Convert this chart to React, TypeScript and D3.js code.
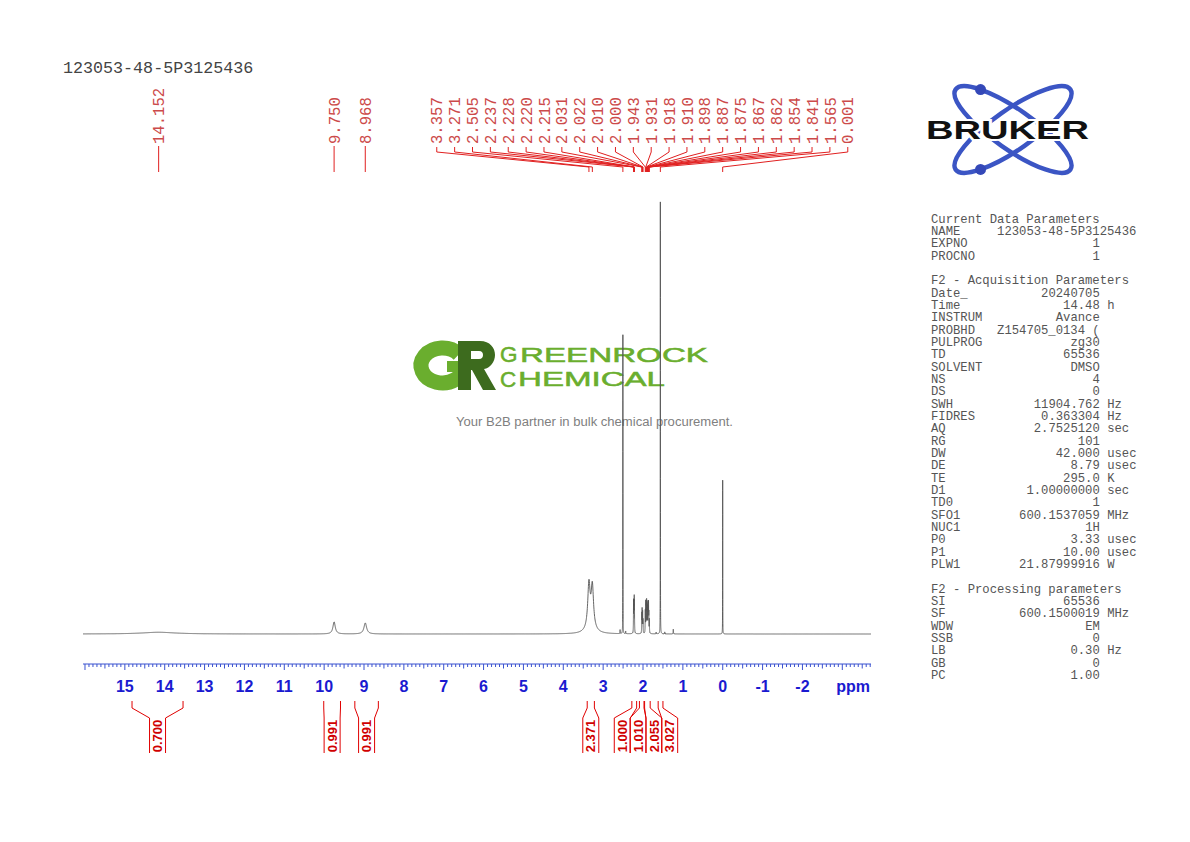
import React from 'react';
import * as d3 from 'd3';

const W = 1190;
const H = 842;

const specTitle = '123053-48-5P3125436';

// Spectrum peaks: position (ppm), height (tallest = 100), half width (ppm)
const peakPpm = [
  14.152, 9.75, 8.968, 3.357, 3.271, 3.31, 2.575, 2.505, 2.435,
  2.237, 2.228, 2.22, 2.215, 2.031, 2.022, 2.01, 2.0,
  1.943, 1.931, 1.918, 1.91, 1.898, 1.887, 1.875, 1.867, 1.862, 1.854, 1.841,
  1.67, 1.565, 1.455, 1.24, 0.001,
];
const peakHeight = [
  0.4, 2.8, 2.55, 10.0, 9.4, 1.5, 0.9, 69.2, 0.6,
  7.2, 6.2, 6.6, 5.5, 4.4, 5.3, 4.8, 3.0,
  5.0, 7.0, 6.3, 6.7, 6.0, 5.6, 6.2, 5.0, 5.3, 4.2, 3.1,
  0.4, 100, 0.45, 1.1, 35.6,
];
const peakWidth = [
  0.5, 0.035, 0.04, 0.035, 0.035, 0.12, 0.003, 0.0015, 0.003,
  0.003, 0.003, 0.003, 0.003, 0.003, 0.003, 0.003, 0.003,
  0.003, 0.003, 0.003, 0.003, 0.003, 0.003, 0.003, 0.003, 0.003, 0.003, 0.003,
  0.003, 0.0015, 0.003, 0.004, 0.0015,
];

// Peak picking labels
const peakLabels = [
  '14.152', '9.750', '8.968', '3.357', '3.271', '2.505', '2.237', '2.228', '2.220', '2.215',
  '2.031', '2.022', '2.010', '2.000', '1.943', '1.931', '1.918', '1.910', '1.898', '1.887',
  '1.875', '1.867', '1.862', '1.854', '1.841', '1.565', '0.001',
];

// Integrals
const integralFrom = [14.82, 10.01, 9.23, 3.4, 2.28, 2.09, 1.96, 1.62];
const integralTo = [13.54, 9.59, 8.64, 3.22, 2.16, 1.975, 1.82, 1.5];
const integralValue = ['0.700', '0.991', '0.991', '2.371', '1.000', '1.010', '2.055', '3.027'];

// Axis
const axisLabels = [15, 14, 13, 12, 11, 10, 9, 8, 7, 6, 5, 4, 3, 2, 1, 0, -1, -2];

// Parameter listing
const paramCurrent: [string, string, string][] = [
  ['NAME', '123053-48-5P3125436', ''],
  ['EXPNO', '1', ''],
  ['PROCNO', '1', ''],
];
const paramAcq: [string, string, string][] = [
  ['Date_', '20240705', ''],
  ['Time', '14.48', 'h'],
  ['INSTRUM', 'Avance', ''],
  ['PROBHD', 'Z154705_0134 (', ''],
  ['PULPROG', 'zg30', ''],
  ['TD', '65536', ''],
  ['SOLVENT', 'DMSO', ''],
  ['NS', '4', ''],
  ['DS', '0', ''],
  ['SWH', '11904.762', 'Hz'],
  ['FIDRES', '0.363304', 'Hz'],
  ['AQ', '2.7525120', 'sec'],
  ['RG', '101', ''],
  ['DW', '42.000', 'usec'],
  ['DE', '8.79', 'usec'],
  ['TE', '295.0', 'K'],
  ['D1', '1.00000000', 'sec'],
  ['TD0', '1', ''],
  ['SFO1', '600.1537059', 'MHz'],
  ['NUC1', '1H', ''],
  ['P0', '3.33', 'usec'],
  ['P1', '10.00', 'usec'],
  ['PLW1', '21.87999916', 'W'],
];
const paramProc: [string, string, string][] = [
  ['SI', '65536', ''],
  ['SF', '600.1500019', 'MHz'],
  ['WDW', 'EM', ''],
  ['SSB', '0', ''],
  ['LB', '0.30', 'Hz'],
  ['GB', '0', ''],
  ['PC', '1.00', ''],
];

function spread(pos: number[], gap: number): number[] {
  const order = pos.map((_, i) => i).sort((a, b) => pos[a] - pos[b]);
  const cl: { idx: number[]; c: number }[] = order.map((i) => ({ idx: [i], c: pos[i] }));
  let merged = true;
  while (merged) {
    merged = false;
    for (let k = 0; k < cl.length - 1; k++) {
      const a = cl[k];
      const b = cl[k + 1];
      const aR = a.c + ((a.idx.length - 1) * gap) / 2;
      const bL = b.c - ((b.idx.length - 1) * gap) / 2;
      if (bL - aR < gap - 1e-9) {
        const idx = [...a.idx, ...b.idx];
        const c = d3.mean(idx, (i) => pos[i]) as number;
        cl.splice(k, 2, { idx, c });
        merged = true;
        break;
      }
    }
  }
  const out: number[] = new Array(pos.length);
  cl.forEach((g) => {
    const n = g.idx.length;
    g.idx.forEach((i, j) => {
      out[i] = g.c + (j - (n - 1) / 2) * gap;
    });
  });
  return out;
}

const MONO = "'Liberation Mono', 'DejaVu Sans Mono', monospace";
const SANS = "'Liberation Sans', Arial, sans-serif";

export default function App() {
  const x = d3.scaleLinear().domain([16.05, -3.72]).range([83, 871]);
  const y = d3.scaleLinear().domain([0, 100]).range([634, 202]);

  // spectrum
  const intensity = (p: number) => {
    let s = 0;
    for (let i = 0; i < peakPpm.length; i++) {
      const d = (p - peakPpm[i]) / peakWidth[i];
      s += peakHeight[i] / (1 + d * d);
    }
    return s;
  };
  const samples: number[] = d3.range(16.05, -3.72, -0.004);
  peakPpm.forEach((p, i) => {
    if (peakWidth[i] < 0.01) {
      for (let d = -0.03; d <= 0.03; d += 0.0004) samples.push(p + d);
      samples.push(p);
    }
  });
  samples.push(-3.72);
  samples.sort((a, b) => b - a);
  const line = d3
    .line<number>()
    .x((p) => x(p))
    .y((p) => y(intensity(p)));
  const specPath = line(samples) || '';

  // axis ticks
  const tickVals = d3.range(-37, 161).map((i) => i / 10);

  // peak labels
  const labelPeakX = peakLabels.map((l) => x(parseFloat(l)));
  const labelX = spread(labelPeakX, 17.87);

  // integrals
  const intX1 = integralFrom.map((v) => x(v));
  const intX2 = integralTo.map((v) => x(v));
  const intMid = intX1.map((v, i) => (v + intX2[i]) / 2);
  const intLabelX = spread(intMid, 15.8);

  // parameters
  const charW = 7.34;
  const px0 = 931;
  const lineH = 12.34;
  const py0 = 222.5;
  type Row = { kind: 'head' | 'row'; text?: string; p?: [string, string, string] };
  const rows: Row[] = [
    { kind: 'head', text: 'Current Data Parameters' },
    ...paramCurrent.map((p) => ({ kind: 'row' as const, p })),
    { kind: 'head', text: '' },
    { kind: 'head', text: 'F2 - Acquisition Parameters' },
    ...paramAcq.map((p) => ({ kind: 'row' as const, p })),
    { kind: 'head', text: '' },
    { kind: 'head', text: 'F2 - Processing parameters' },
    ...paramProc.map((p) => ({ kind: 'row' as const, p })),
  ];

  // Bruker logo geometry
  const bcx = 1013;
  const bcy = 129.5;
  const ba = 70;
  const bb = 20;
  const bth = (35 * Math.PI) / 180;
  const t = (225 * Math.PI) / 180;
  const dotX = bcx + ba * Math.cos(t) * Math.cos(bth) - bb * Math.sin(t) * Math.sin(bth);
  const dotY = bcy + ba * Math.cos(t) * Math.sin(bth) + bb * Math.sin(t) * Math.cos(bth);

  // Greenrock G and R marks
  const gcx = 442.5;
  const gcy = 365.5;
  const grx = 21.5;
  const gry = 17.5;
  const a0 = (-40 * Math.PI) / 180;
  const gPath = `M ${gcx + grx * Math.cos(a0)} ${gcy + gry * Math.sin(a0)} A ${grx} ${gry} 0 1 0 ${gcx + grx} ${gcy}`;
  const rPath =
    'M458 341 H480 C490 341 495 348 495 355 C495 362 490 368 484 369 L496 390 H483 L472 370 H471 V390 H458 Z ' +
    'M471 351 H479 C482 351 483 353 483 355 C483 357 482 359 479 359 H471 Z';

  return (
    <svg
      width={W}
      height={H}
      viewBox={`0 0 ${W} ${H}`}
      style={{ position: 'absolute', left: 0, top: 0, background: '#fff' }}
    >
      <rect x={0} y={0} width={W} height={H} fill="#fff" />

      {/* title */}
      <text x={63} y={73.3} fontFamily={MONO} fontSize={16.7} fill="#444">
        {specTitle}
      </text>

      {/* watermark */}
      <g>
        <path d={gPath} fill="none" stroke="#6aae2e" strokeWidth={15} />
        <rect x={447} y={361} width={24} height={11} fill="#6aae2e" />
        <path d={rPath} fill="#3d6b1e" fillRule="evenodd" />
        <g fontFamily={SANS} fill="#6aae2e" stroke="#6aae2e" strokeWidth={0.5}>
          <text x={500} y={361.5} fontSize={22.5}>
            G
          </text>
          <text x={520} y={362} fontSize={20} textLength={188} lengthAdjust="spacingAndGlyphs">
            REENROCK
          </text>
          <text x={500} y={386.5} fontSize={22.5}>
            C
          </text>
          <text x={518} y={386} fontSize={20} textLength={147} lengthAdjust="spacingAndGlyphs">
            HEMICAL
          </text>
        </g>
        <text
          x={456}
          y={426}
          fontFamily={SANS}
          fontSize={12.5}
          fill="#808080"
          textLength={277}
          lengthAdjust="spacingAndGlyphs"
        >
          Your B2B partner in bulk chemical procurement.
        </text>
      </g>

      {/* spectrum */}
      <path d={specPath} fill="none" stroke="#555" strokeWidth={0.9} />

      {/* axis */}
      <g stroke="#3a52d0" strokeWidth={1}>
        <line x1={x(16.05)} x2={x(-3.72)} y1={664} y2={664} />
        {tickVals.map((v, i) => {
          const r = Math.round(v * 10);
          const len = r % 10 === 0 ? 6 : r % 5 === 0 ? 4.5 : 3;
          return <line key={i} x1={x(v)} x2={x(v)} y1={664} y2={664 + len} />;
        })}
      </g>
      <g fontFamily={SANS} fontWeight="bold" fontSize={16} fill="#1a1ad0" textAnchor="middle">
        {axisLabels.map((v) => (
          <text key={v} x={x(v)} y={692}>
            {String(v)}
          </text>
        ))}
        <text x={870} y={692} textAnchor="end">
          ppm
        </text>
      </g>

      {/* peak labels */}
      <g>
        {peakLabels.map((l, i) => {
          const lx = labelX[i];
          const pxx = labelPeakX[i];
          const straight = Math.abs(lx - pxx) < 0.5;
          const d = straight
            ? `M ${pxx} 146 L ${pxx} 172`
            : `M ${lx} 147 L ${lx} 152 L ${pxx} 167 L ${pxx} 172`;
          return (
            <g key={i}>
              <path d={d} fill="none" stroke="#e02020" strokeWidth={1} />
              <text
                transform={`translate(${lx},144) rotate(-90)`}
                dy="0.36em"
                fontFamily={MONO}
                fontSize={15.6}
                fill="#cc4a4a"
              >
                {l}
              </text>
            </g>
          );
        })}
      </g>

      {/* integrals */}
      <g>
        {integralValue.map((v, i) => {
          const x1 = intX1[i];
          const x2 = intX2[i];
          const cL = intLabelX[i] - 8;
          const cR = intLabelX[i] + 8;
          const d = `M ${x1} 701 L ${x1} 708 L ${cL} 718 L ${cL} 753 M ${x2} 701 L ${x2} 708 L ${cR} 718 L ${cR} 753`;
          return (
            <g key={i}>
              <path d={d} fill="none" stroke="#e00000" strokeWidth={1} />
              <text
                transform={`translate(${intLabelX[i]},736) rotate(-90)`}
                dy="0.36em"
                textAnchor="middle"
                fontFamily={SANS}
                fontWeight="bold"
                fontSize={13}
                fill="#d00000"
              >
                {v}
              </text>
            </g>
          );
        })}
      </g>

      {/* Bruker logo */}
      <g>
        <ellipse
          cx={bcx}
          cy={bcy}
          rx={ba}
          ry={bb}
          fill="none"
          stroke="#3b55c4"
          strokeWidth={4.5}
          transform={`rotate(35 ${bcx} ${bcy})`}
        />
        <ellipse
          cx={bcx}
          cy={bcy}
          rx={ba}
          ry={bb}
          fill="none"
          stroke="#3b55c4"
          strokeWidth={4.5}
          transform={`rotate(-35 ${bcx} ${bcy})`}
        />
        <circle cx={dotX} cy={dotY} r={5.5} fill="#3448b8" />
        <circle cx={dotX} cy={2 * bcy - dotY} r={5.5} fill="#3448b8" />
        <text
          x={926}
          y={138.5}
          fontFamily={SANS}
          fontWeight={900}
          fontSize={25}
          fill="#111"
          stroke="#fff"
          strokeWidth={4}
          paintOrder="stroke"
          textLength={163}
          lengthAdjust="spacingAndGlyphs"
        >
          BRUKER
        </text>
      </g>

      {/* parameters */}
      <g fontFamily={MONO} fontSize={12.23} fill="#555">
        {rows.map((r, i) => {
          const yy = py0 + i * lineH;
          if (r.kind === 'head') {
            return (
              <text key={i} x={px0} y={yy}>
                {r.text}
              </text>
            );
          }
          const [lab, val, unit] = r.p as [string, string, string];
          const start = Math.max(23 - val.length, 9);
          return (
            <g key={i}>
              <text x={px0} y={yy}>
                {lab}
              </text>
              <text x={px0 + start * charW} y={yy}>
                {val}
              </text>
              {unit ? (
                <text x={px0 + 24 * charW} y={yy}>
                  {unit}
                </text>
              ) : null}
            </g>
          );
        })}
      </g>
    </svg>
  );
}
